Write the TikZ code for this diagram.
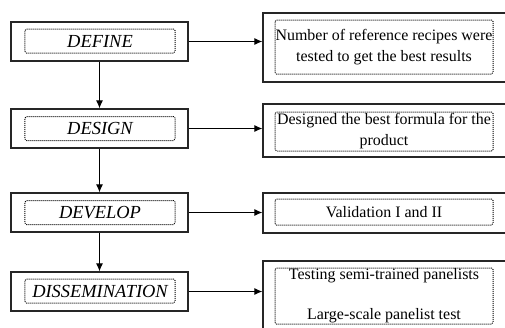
\documentclass[tikz,border=0pt]{standalone}
\usepackage{fontspec}
\setmainfont{Liberation Serif}
\usetikzlibrary{arrows.meta}

\begin{document}
\begin{tikzpicture}[x=1bp, y=-1bp,
    box/.style = {draw=black!85, line width=1.3bp, inner sep=0pt},
    stage/.style = {draw, dash pattern=on 1bp off 1bp, line width=1bp, rounded corners=1.5bp, minimum width=150bp, minimum height=24bp, inner sep=0pt, font=\fontsize{18.5}{20}\selectfont\itshape},
    note/.style = {draw, dash pattern=on 1bp off 1bp, line width=1bp, rounded corners=1.5bp, minimum width=218bp, inner sep=0pt, align=center, font=\fontsize{16}{21}\selectfont},
    arr/.style = {-{Latex[length=8bp,width=7bp]}, line width=1bp}]
    \clip (0,0) rectangle (505,327);
    % left column
    \node[box, minimum width=177bp, minimum height=39bp] (define) at (99.5,41.5) {};
    \node[box, minimum width=177bp, minimum height=39bp] (design) at (99.5,128.5) {};
    \node[box, minimum width=177bp, minimum height=39bp] (develop) at (99.5,212.5) {};
    \node[box, minimum width=177bp, minimum height=39bp] (dissem) at (99.5,291.5) {};
    \node[stage] (s1) at (100,41) {DEFINE};
    \node[stage] (s2) at (100,128.5) {DESIGN};
    \node[stage] (s3) at (100,212.5) {DEVELOP};
    \node[stage] (s4) at (100,291) {DISSEMINATION};
    % right column
    \node[box, minimum width=250bp, minimum height=69bp] (recipes) at (388,47.5) {};
    \node[box, minimum width=250bp, minimum height=53bp] (formula) at (388,130.5) {};
    \node[box, minimum width=250bp, minimum height=40bp] (valid) at (388,213) {};
    \node[box, minimum width=250bp, minimum height=72bp] (panel) at (388,297) {};
    \node[note, minimum height=54bp] (n1) at (384,47) {Number of reference recipes were\\tested to get the best results};
    \node[note, minimum height=39bp] (n2) at (384,131.5) {Designed the best formula for the\\product};
    \node[note, minimum height=26bp] (n3) at (384,212) {Validation I and II};
    \node[note, minimum height=56bp] (n4) at (384,296) {Testing semi-trained panelists\\[19bp]Large-scale panelist test};
    % arrows
    \draw[arr] (define) -- (design);
    \draw[arr] (design) -- (develop);
    \draw[arr] (develop) -- (dissem);
    \draw[arr] (define.east) -- (define.east -| recipes.west);
    \draw[arr] (design.east) -- (design.east -| formula.west);
    \draw[arr] (develop.east) -- (develop.east -| valid.west);
    \draw[arr] (dissem.east) -- (dissem.east -| panel.west);
\end{tikzpicture}
\end{document}
